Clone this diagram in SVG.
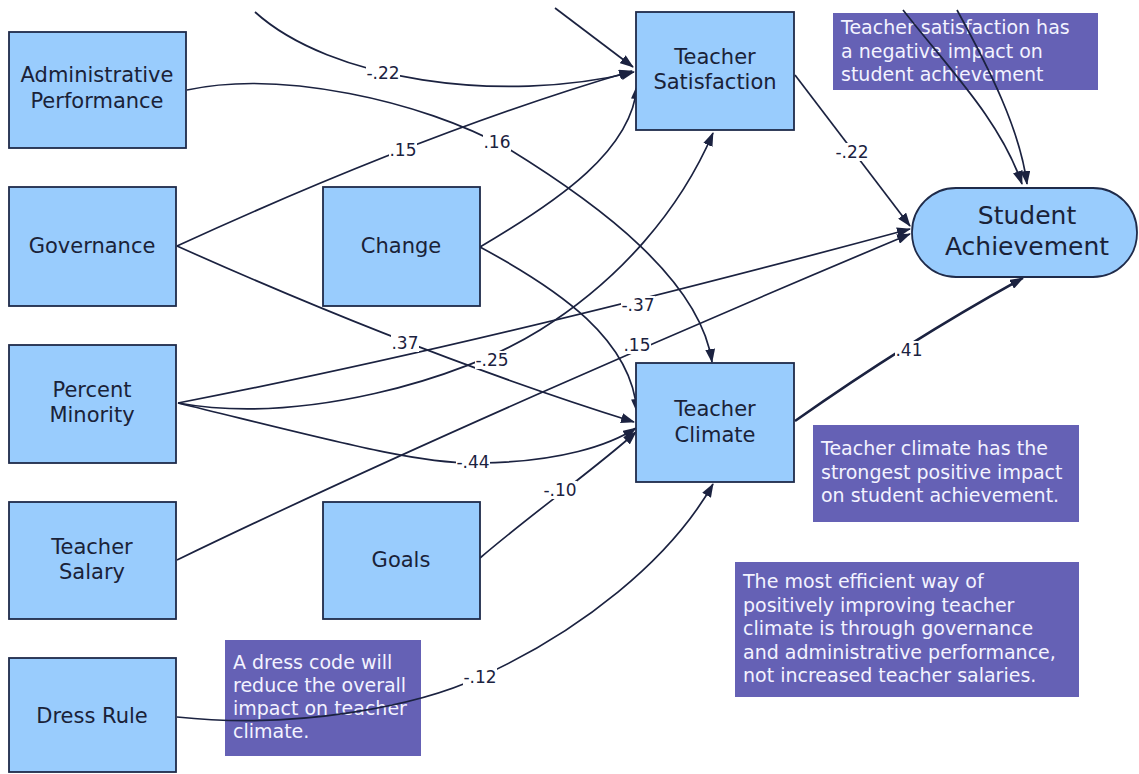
<svg xmlns="http://www.w3.org/2000/svg" width="1139" height="774" viewBox="0 0 1139 774">
<style>
.node{fill:#99ccfd;stroke:#1f2b4a;stroke-width:1.8}
.nt{font-family:"DejaVu Sans",Verdana,sans-serif;font-size:21px;fill:#1a2238;text-anchor:middle;dominant-baseline:central}
.big{font-size:25px}
.note{fill:#6561b5}
.ntx{font-family:"DejaVu Sans",Verdana,sans-serif;font-size:19px;fill:#f3f3ff;dominant-baseline:central}
.ln{fill:none;stroke:#1b2240;stroke-width:1.7;marker-end:url(#ah)}
.lb{fill:#ffffff}
.lbl{font-family:"DejaVu Sans",Verdana,sans-serif;font-size:17px;fill:#1b2240;text-anchor:middle;dominant-baseline:central}
</style>
<defs>
<marker id="ah" markerWidth="14" markerHeight="10" refX="13" refY="5" orient="auto" markerUnits="userSpaceOnUse">
<path d="M0,0 L14,5 L0,10 z" fill="#1b2240"/>
</marker>
</defs>
<rect width="1139" height="774" fill="#ffffff"/>

<g id="note-satisfaction">
<rect class="note" x="833" y="13" width="265" height="77"/>
<text class="ntx" x="841" y="27">Teacher satisfaction has</text>
<text class="ntx" x="841" y="51">a negative impact on</text>
<text class="ntx" x="841" y="74">student achievement</text>
</g>
<g id="note-climate">
<rect class="note" x="813" y="425" width="266" height="97"/>
<text class="ntx" x="821" y="448">Teacher climate has the</text>
<text class="ntx" x="821" y="472">strongest positive impact</text>
<text class="ntx" x="821" y="495">on student achievement.</text>
</g>
<g id="note-efficient">
<rect class="note" x="735" y="562" width="344" height="135"/>
<text class="ntx" x="743" y="581">The most efficient way of</text>
<text class="ntx" x="743" y="605">positively improving teacher</text>
<text class="ntx" x="743" y="628">climate is through governance</text>
<text class="ntx" x="743" y="652">and administrative performance,</text>
<text class="ntx" x="743" y="675">not increased teacher salaries.</text>
</g>
<g id="note-dress">
<rect class="note" x="225" y="640" width="196" height="116"/>
<text class="ntx" x="233" y="662">A dress code will</text>
<text class="ntx" x="233" y="685">reduce the overall</text>
<text class="ntx" x="233" y="708">impact on teacher</text>
<text class="ntx" x="233" y="731">climate.</text>
</g>

<g id="connectors">
<path class="ln" d="M555,8 L633,67"/>
<path class="ln" d="M255,12 C330,80 500,105 634,72"/>
<path class="ln" d="M177,246 Q430,130 632,71"/>
<path class="ln" d="M480,247 C560,200 632,150 637,86"/>
<path class="ln" d="M187,90 C280,70 420,100 507,148 C600,205 700,280 712,362"/>
<path class="ln" d="M177,246 Q420,355 634,422"/>
<path class="ln" d="M480,247 C560,290 632,340 637,412"/>
<path class="ln" d="M178,403 C300,425 460,380 540,330 C620,280 680,210 713,133"/>
<path class="ln" d="M178,403 Q480,345 910,229"/>
<path class="ln" d="M177,560 C400,452 700,322 910,234"/>
<path class="ln" d="M178,403 C330,440 420,465 480,463 C560,462 610,445 636,428"/>
<path class="ln" d="M480,558 C530,515 600,465 636,432"/>
<path class="ln" d="M177,717 C300,730 420,705 480,677 C580,632 670,560 713,484"/>
<path class="ln" d="M795,75 L910,226"/>
<path class="ln" style="stroke-width:2.5" d="M795,421 Q910,340 1023,278"/>
<path class="ln" d="M903,10 C950,70 1000,120 1022,184"/>
<path class="ln" d="M957,10 C990,70 1020,130 1027,184"/>
<rect class="lb" x="366" y="64" width="34" height="18"/><text class="lbl" x="383" y="73">-.22</text>
<rect class="lb" x="389" y="141" width="28" height="18"/><text class="lbl" x="403" y="150">.15</text>
<rect class="lb" x="483" y="133" width="28" height="18"/><text class="lbl" x="497" y="142">.16</text>
<rect class="lb" x="835" y="143" width="34" height="18"/><text class="lbl" x="852" y="152">-.22</text>
<rect class="lb" x="391" y="334" width="28" height="18"/><text class="lbl" x="405" y="343">.37</text>
<rect class="lb" x="475" y="351" width="34" height="18"/><text class="lbl" x="492" y="360">-.25</text>
<rect class="lb" x="621" y="296" width="34" height="18"/><text class="lbl" x="638" y="305">-.37</text>
<rect class="lb" x="623" y="336" width="28" height="18"/><text class="lbl" x="637" y="345">.15</text>
<rect class="lb" x="456" y="453" width="34" height="18"/><text class="lbl" x="473" y="462">-.44</text>
<rect class="lb" x="543" y="481" width="34" height="18"/><text class="lbl" x="560" y="490">-.10</text>
<rect class="lb" x="895" y="341" width="28" height="18"/><text class="lbl" x="909" y="350">.41</text>
<rect class="lb" x="463" y="668" width="34" height="18"/><text class="lbl" x="480" y="677">-.12</text>
</g>

<g id="admin-performance">
<rect class="node" x="9" y="32" width="177" height="116"/>
<text class="nt" x="97" y="75">Administrative</text>
<text class="nt" x="97" y="101">Performance</text>
</g>
<g id="governance">
<rect class="node" x="9" y="187" width="167" height="119"/>
<text class="nt" x="92" y="246">Governance</text>
</g>
<g id="change">
<rect class="node" x="323" y="187" width="157" height="119"/>
<text class="nt" x="401" y="246">Change</text>
</g>
<g id="percent-minority">
<rect class="node" x="9" y="345" width="167" height="118"/>
<text class="nt" x="92" y="390">Percent</text>
<text class="nt" x="92" y="415">Minority</text>
</g>
<g id="teacher-salary">
<rect class="node" x="9" y="502" width="167" height="117"/>
<text class="nt" x="92" y="547">Teacher</text>
<text class="nt" x="92" y="572">Salary</text>
</g>
<g id="goals">
<rect class="node" x="323" y="502" width="157" height="117"/>
<text class="nt" x="401" y="560">Goals</text>
</g>
<g id="dress-rule">
<rect class="node" x="9" y="658" width="167" height="114"/>
<text class="nt" x="92" y="716">Dress Rule</text>
</g>
<g id="teacher-satisfaction">
<rect class="node" x="636" y="12" width="158" height="118"/>
<text class="nt" x="715" y="57">Teacher</text>
<text class="nt" x="715" y="82">Satisfaction</text>
</g>
<g id="teacher-climate">
<rect class="node" x="636" y="363" width="158" height="119"/>
<text class="nt" x="715" y="409">Teacher</text>
<text class="nt" x="715" y="435">Climate</text>
</g>
<g id="student-achievement">
<rect class="node" x="912" y="188" width="225" height="89" rx="44" ry="44"/>
<text class="nt big" x="1027" y="215">Student</text>
<text class="nt big" x="1027" y="246">Achievement</text>
</g>
</svg>
